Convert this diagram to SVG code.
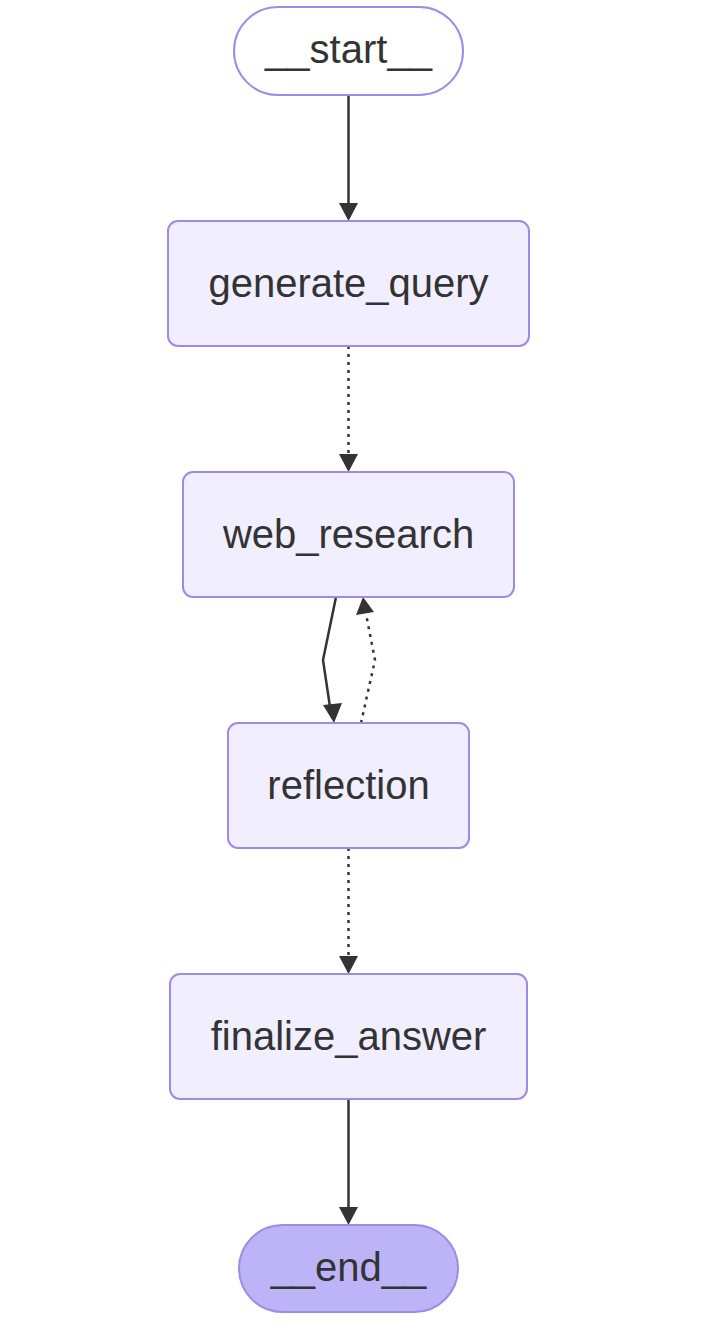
<svg xmlns="http://www.w3.org/2000/svg" width="726" height="1336" viewBox="0 0 726 1336">
<style>
.node rect{fill:#f0eeff;stroke:#9f8ae6;stroke-width:2}
.node text{font-family:"Liberation Sans",Arial,sans-serif;font-size:40px;fill:#333;text-anchor:middle;dominant-baseline:central}
.edge{fill:none;stroke:#333;stroke-width:2.5}
.dot{stroke-dasharray:3 5}
</style>
<defs>
<marker id="arr" viewBox="0 0 10 10" refX="9" refY="5" markerWidth="8" markerHeight="8" markerUnits="userSpaceOnUse" orient="auto" style="overflow:visible">
<path d="M0,0 L10,5 L0,10 z" fill="#333"/>
</marker>
</defs>
<g id="connectors">
<path class="edge" d="M348.5,95 L348.5,204" />
<path d="M339,203 L358,203 L348.5,221 z" fill="#333"/>
<path class="edge dot" d="M348.5,346 L348.5,455" />
<path d="M339,454 L358,454 L348.5,472 z" fill="#333"/>
<path class="edge" d="M336,597 L323,660 L330,707" />
<path d="M323,705 L342,703 L334,723 z" fill="#333"/>
<path class="edge dot" d="M361,723 L375,660 L366,614" />
<path d="M356,615 L374,612 L363,597 z" fill="#333"/>
<path class="edge dot" d="M348.5,848 L348.5,957" />
<path d="M339,956 L358,956 L348.5,974 z" fill="#333"/>
<path class="edge" d="M348.5,1099 L348.5,1208" />
<path d="M339,1207 L358,1207 L348.5,1225 z" fill="#333"/>
</g>
<g id="start" class="node">
<rect x="234" y="7" width="229" height="88" rx="44" style="fill:#ffffff"/>
<text x="348.5" y="49">__start__</text>
</g>
<g id="generate_query" class="node">
<rect x="168" y="221" width="361" height="125" rx="10"/>
<text x="348.5" y="283">generate_query</text>
</g>
<g id="web_research" class="node">
<rect x="183" y="472" width="331" height="125" rx="10"/>
<text x="348.5" y="534">web_research</text>
</g>
<g id="reflection" class="node">
<rect x="228" y="723" width="241" height="125" rx="10"/>
<text x="348.5" y="785">reflection</text>
</g>
<g id="finalize_answer" class="node">
<rect x="170" y="974" width="357" height="125" rx="10"/>
<text x="348.5" y="1036">finalize_answer</text>
</g>
<g id="end" class="node">
<rect x="239" y="1225" width="219" height="87" rx="43.5" style="fill:#bcb4f7"/>
<text x="348.5" y="1267">__end__</text>
</g>
</svg>
